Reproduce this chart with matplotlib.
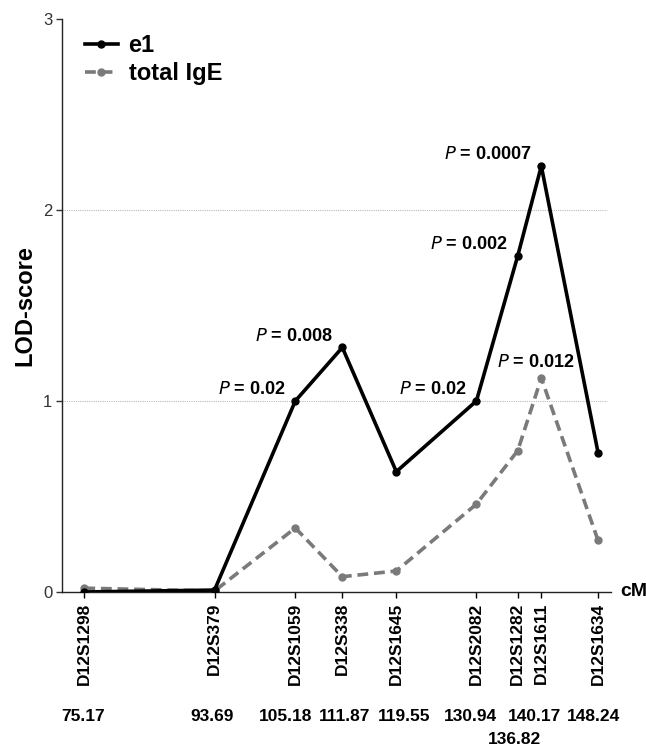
import matplotlib
matplotlib.use("Agg")
from matplotlib import pyplot as plt
import matplotlib.transforms as mtransforms

# markers along chromosome 12
markers = ["D12S1298", "D12S379", "D12S1059", "D12S338", "D12S1645",
           "D12S2082", "D12S1282", "D12S1611", "D12S1634"]
cm = [75.17, 93.69, 105.18, 111.87, 119.55, 130.94, 136.82, 140.17, 148.24]
cm_labels = ["75.17", "93.69", "105.18", "111.87", "119.55", "130.94", "136.82", "140.17", "148.24"]
e1 = [0.0, 0.01, 1.0, 1.28, 0.63, 1.0, 1.76, 2.23, 0.73]
ige = [0.02, 0.005, 0.335, 0.08, 0.11, 0.46, 0.74, 1.12, 0.27]

# p-value labels (marker index, value)
pvals_e1 = [(2, "0.02"), (3, "0.008"), (5, "0.02"), (6, "0.002"), (7, "0.0007")]
pvals_ige = [(7, "0.012")]

# small sideways nudges (points) so the cM numbers do not collide
cm_nudge = [-1, -1.5, -7, 1.5, 5.5, -4, -2.5, -5, -3]

plt.rcParams["font.family"] = ["Liberation Sans", "DejaVu Sans"]

fig = plt.figure(figsize=(6.46, 7.5), dpi=100)
ax = fig.add_axes([0.096, 0.2107, 0.85, 0.764])

ax.plot(cm, e1, color="black", lw=2.6, marker="o", ms=5, label="e1", zorder=3)
ax.plot(cm, ige, color="#7a7a7a", lw=2.6, ls=(0, (3, 1.6)), marker="o", ms=5,
        label="total IgE", zorder=2)

for y in (1, 2):
    ax.axhline(y, color="#bbbbbb", lw=0.8, ls=(0, (1, 1)), xmax=0.993, zorder=1)

ax.set_xlim(72.0, 150.1)
ax.set_ylim(0, 3)
ax.set_yticks([0, 1, 2, 3])
ax.set_xticks(cm)
ax.set_xticklabels(markers, rotation=90, fontweight="bold", fontsize=12.5)
ax.tick_params(axis="y", labelsize=12, length=4, width=1, colors="#333333", pad=3)
ax.tick_params(axis="x", length=4, width=1, pad=4)
for s in ("top", "right"):
    ax.spines[s].set_visible(False)
for s in ("left", "bottom"):
    ax.spines[s].set_linewidth(1.0)
    ax.spines[s].set_color("#222222")

ax.set_ylabel("LOD-score", fontsize=17, fontweight="bold", labelpad=5)

# cM values beneath the marker names
trans = mtransforms.blended_transform_factory(ax.transData, ax.transAxes)
for x, lab, dx in zip(cm, cm_labels, cm_nudge):
    yy = -0.258 if lab == "136.82" else -0.218
    ax.annotate(lab, (x, yy), xycoords=trans, xytext=(dx, 0), textcoords="offset points",
                ha="center", va="center", fontsize=12.5, fontweight="bold")
ax.text(1.017, 0.0, "cM", transform=ax.transAxes, ha="left", va="center",
        fontsize=14, fontweight="bold")

def plabel(x, y, txt, dx, dy, ha):
    ax.annotate("$\\bf{\\it{P}}$ = " + txt, (x, y), xytext=(dx, dy),
                textcoords="offset points", ha=ha, va="center",
                fontsize=13, fontweight="bold")

for i, t in pvals_e1:
    plabel(cm[i], e1[i], t, -7, 8, "right")
for i, t in pvals_ige:
    plabel(cm[i], ige[i], t, -4, 11, "center")

ax.legend(loc="upper left", bbox_to_anchor=(0.003, 1.01), frameon=False,
          handlelength=1.4, handletextpad=0.45, labelspacing=0.2,
          prop={"weight": "bold", "size": 17})

fig.savefig("out.png", dpi=100)
